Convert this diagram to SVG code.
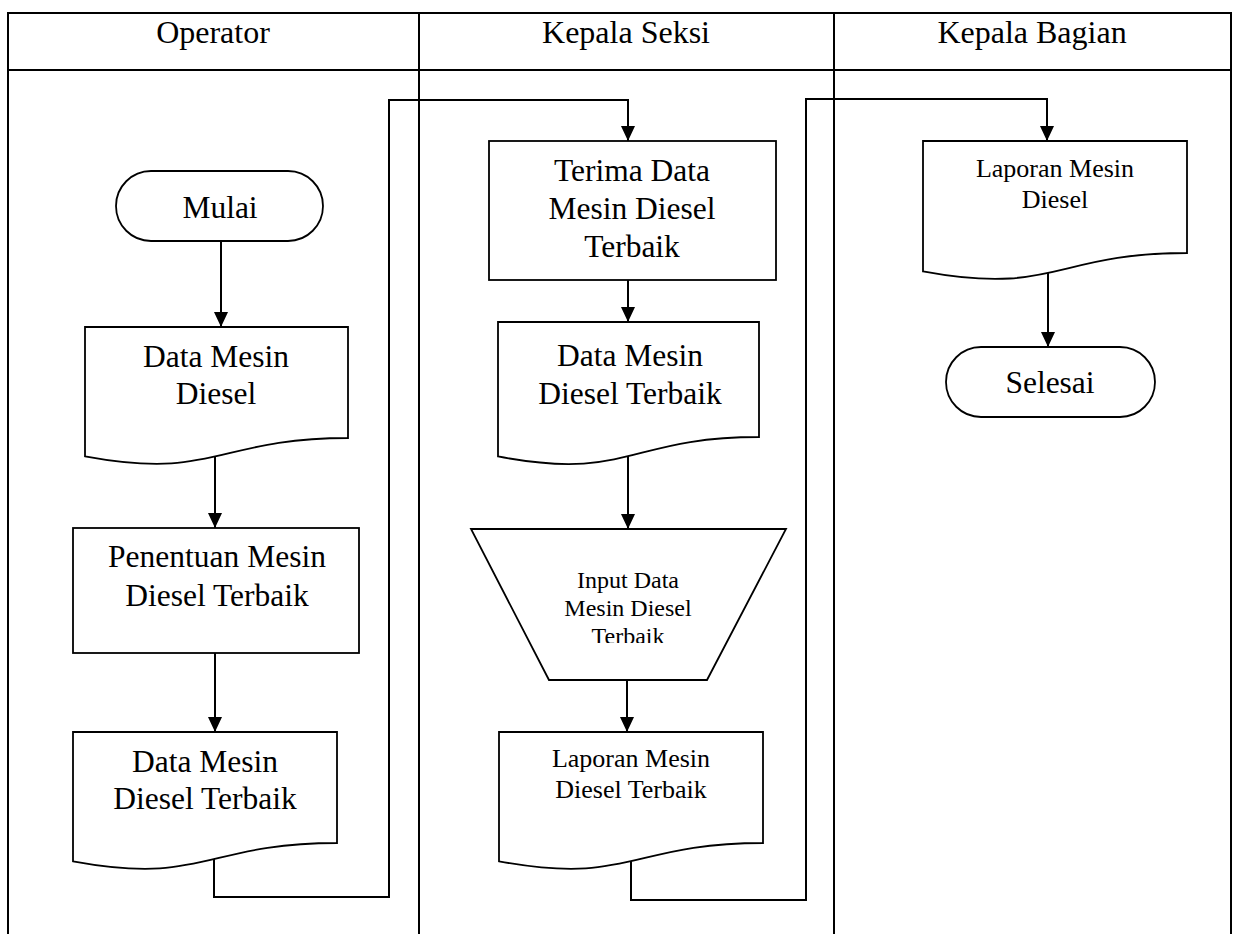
<svg xmlns="http://www.w3.org/2000/svg" width="1240" height="934" viewBox="0 0 1240 934">
  <defs>
    <style>
      .grid { stroke: #000; stroke-width: 2; fill: none; }
      .shape { stroke: #000; stroke-width: 1.8; fill: #fff; }
      .conn { stroke: #000; stroke-width: 2; fill: none; }
      text { font-family: "Liberation Serif", "Times New Roman", serif; fill: #000; text-anchor: middle; }
      .hdr { font-size: 32px; }
      .lg { font-size: 31.5px; }
      .md { font-size: 26px; }
      .sm { font-size: 24px; }
    </style>
    <marker id="arrow" markerUnits="userSpaceOnUse" markerWidth="16" markerHeight="16" viewBox="0 0 16 16" refX="15" refY="8" orient="auto">
      <path d="M0,1 L15,8 L0,15 Z" fill="#000"/>
    </marker>
    <clipPath id="trapClip">
      <rect x="460" y="529" width="340" height="114"/>
    </clipPath>
  </defs>

  <rect width="1240" height="934" fill="#fff"/>

  <!-- swimlane table -->
  <g id="lanes">
    <path class="grid" d="M8,940 V13 H1231 V940 M8,70 H1231 M419,13 V940 M834,13 V940"/>
    <text class="hdr" x="213" y="43">Operator</text>
    <text class="hdr" x="626" y="43">Kepala Seksi</text>
    <text class="hdr" x="1032" y="43">Kepala Bagian</text>
  </g>

  <!-- connectors -->
  <g id="connectors">
    <line class="conn" x1="221" y1="241" x2="221" y2="327" marker-end="url(#arrow)"/>
    <line class="conn" x1="215" y1="456" x2="215" y2="528" marker-end="url(#arrow)"/>
    <line class="conn" x1="215" y1="653" x2="215" y2="732" marker-end="url(#arrow)"/>
    <polyline class="conn" points="214,859 214,897 389,897 389,100 628,100 628,141" marker-end="url(#arrow)"/>
    <line class="conn" x1="628" y1="280" x2="628" y2="322" marker-end="url(#arrow)"/>
    <line class="conn" x1="628" y1="455" x2="628" y2="529" marker-end="url(#arrow)"/>
    <line class="conn" x1="627" y1="680" x2="627" y2="732" marker-end="url(#arrow)"/>
    <polyline class="conn" points="631,860 631,900 806,900 806,99 1047,99 1047,141" marker-end="url(#arrow)"/>
    <line class="conn" x1="1048" y1="268" x2="1048" y2="347" marker-end="url(#arrow)"/>
  </g>

  <!-- Operator lane -->
  <g id="mulai">
    <rect class="shape" x="116" y="171" width="207" height="70" rx="35" ry="35"/>
    <text class="lg" x="220" y="218">Mulai</text>
  </g>
  <g id="data-mesin-diesel">
    <path class="shape" d="M85,327 H348 V438 C216.5,438 216.5,480.7 85,456.3 Z"/>
    <text class="lg" x="216" y="367">Data Mesin</text>
    <text class="lg" x="216" y="404">Diesel</text>
  </g>
  <g id="penentuan">
    <rect class="shape" x="73" y="528" width="286" height="125"/>
    <text class="lg" x="217" y="567">Penentuan Mesin</text>
    <text class="lg" x="217" y="606">Diesel Terbaik</text>
  </g>
  <g id="data-terbaik-op">
    <path class="shape" d="M73,732 H337 V843 C205,843 205,885.7 73,861.3 Z"/>
    <text class="lg" x="205" y="772">Data Mesin</text>
    <text class="lg" x="205" y="809">Diesel Terbaik</text>
  </g>

  <!-- Kepala Seksi lane -->
  <g id="terima-data">
    <rect class="shape" x="489" y="141" width="287" height="139"/>
    <text class="lg" x="632" y="181">Terima Data</text>
    <text class="lg" x="632" y="219">Mesin Diesel</text>
    <text class="lg" x="632" y="257">Terbaik</text>
  </g>
  <g id="data-terbaik-ks">
    <path class="shape" d="M498,322 H759 V437 C628.5,437 628.5,481.5 498,456.4 Z"/>
    <text class="lg" x="630" y="366">Data Mesin</text>
    <text class="lg" x="630" y="404">Diesel Terbaik</text>
  </g>
  <g id="input-data">
    <polygon class="shape" points="471,529 786,529 707,680 549,680"/>
    <g clip-path="url(#trapClip)">
      <text class="sm" x="628" y="588">Input Data</text>
      <text class="sm" x="628" y="616">Mesin Diesel</text>
      <text class="sm" x="628" y="644">Terbaik</text>
    </g>
  </g>
  <g id="laporan-terbaik">
    <path class="shape" d="M499,732 H763 V843 C631,843 631,885.7 499,861.3 Z"/>
    <text class="md" x="631" y="767">Laporan Mesin</text>
    <text class="md" x="631" y="798">Diesel Terbaik</text>
  </g>

  <!-- Kepala Bagian lane -->
  <g id="laporan-diesel">
    <path class="shape" d="M923,141 H1187 V253 C1055,253 1055,296 923,271.4 Z"/>
    <text class="md" x="1055" y="177">Laporan Mesin</text>
    <text class="md" x="1055" y="208">Diesel</text>
  </g>
  <g id="selesai">
    <rect class="shape" x="946" y="347" width="209" height="70" rx="35" ry="35"/>
    <text class="lg" x="1050" y="393">Selesai</text>
  </g>
</svg>
